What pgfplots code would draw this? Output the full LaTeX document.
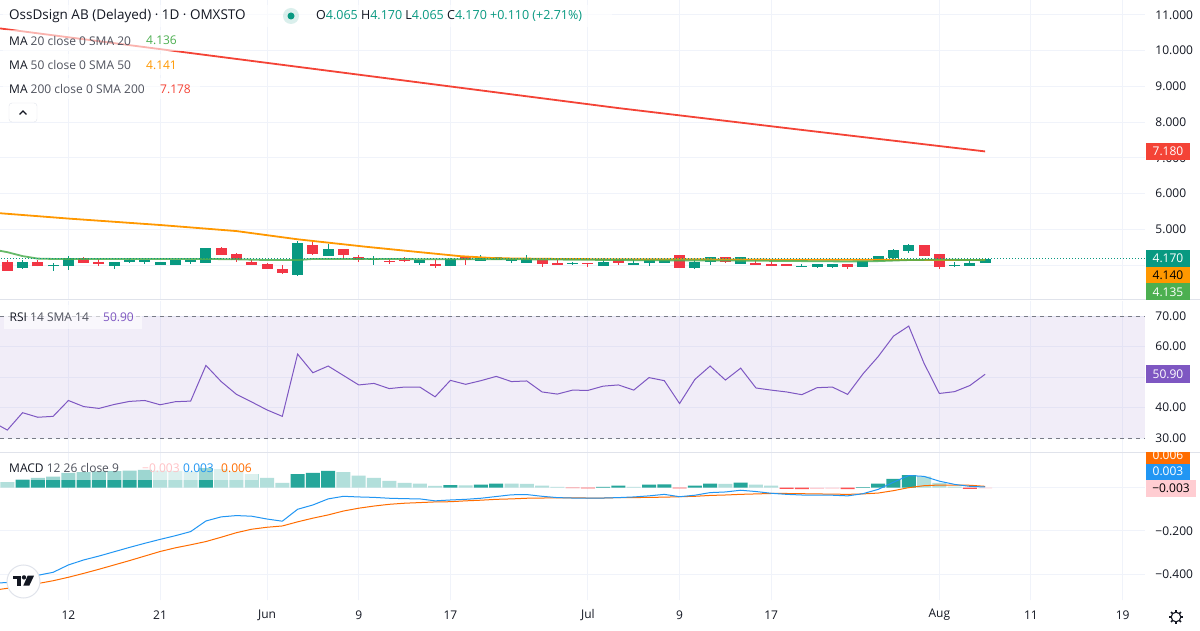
\documentclass[border=0pt]{standalone}
\usepackage{pgfplots}
\pgfplotsset{compat=1.18}
\usepackage{pgfplotstable}
\usepackage{fontspec}
\setmainfont{Open Sans}

\definecolor{upc}{HTML}{089981}
\definecolor{dnc}{HTML}{F23645}
\definecolor{ma20}{HTML}{4CAF50}
\definecolor{ma50}{HTML}{FF9800}
\definecolor{ma200}{HTML}{F44336}
\definecolor{rsic}{HTML}{7E57C2}
\definecolor{macdc}{HTML}{2196F3}
\definecolor{sigc}{HTML}{FF6D00}
\definecolor{hup}{HTML}{26A69A}
\definecolor{hupl}{HTML}{B2DFDB}
\definecolor{hdn}{HTML}{FF5252}
\definecolor{hdnl}{HTML}{FFCDD2}
\definecolor{gridc}{HTML}{F0F3FA}
\definecolor{sepc}{HTML}{E0E3EB}
\definecolor{txt}{HTML}{131722}
\definecolor{sub}{HTML}{50535E}
\definecolor{dashc}{HTML}{787B86}

\newcommand\scalefont{\fontsize{12pt}{14pt}\selectfont}

\pgfplotsset{
  tv/.style={
    scale only axis, width=1145pt,
    xmin=-0.478, xmax=74.46,
    axis line style={draw=none},
    major tick length=0pt, tick style={draw=none},
    xtick={4,10,17,23,29,38,44,50,61,67,73},
    xmajorgrids, ymajorgrids,
    major grid style={draw=gridc, line width=1pt},
    yticklabel pos=right,
    yticklabel style={anchor=west, xshift=7pt, font=\scalefont, text=txt},
    xticklabel style={anchor=center, yshift=-15pt, font=\scalefont, text=txt},
  },
  wick/.style={draw=none, mark=none,
    error bars/.cd, y dir=plus, y explicit, error mark=none,
    error bar style={draw=#1, line width=1pt}},
  body/.style={draw=none, mark=none,
    error bars/.cd, y dir=plus, y explicit, error mark=none,
    error bar style={draw=#1, line width=11pt}},
  hist/.style={ybar, bar width=14pt, bar shift=0pt, fill=#1, draw=none},
}

% daily candles, bar index i
\pgfplotstableread{
i O H L C
1 3.928 4.133 3.900 4.086
3 3.965 4.049 3.844 4.012
4 3.984 4.253 3.872 4.188
7 3.984 4.086 3.900 4.086
8 4.095 4.188 4.067 4.151
9 4.086 4.151 4.030 4.133
10 4.012 4.086 4.012 4.086
11 4.012 4.133 4.012 4.133
12 4.086 4.151 4.040 4.133
13 4.067 4.477 4.067 4.477
19 3.733 4.663 3.705 4.616
21 4.263 4.579 4.263 4.449
24 4.151 4.253 4.012 4.170
27 4.067 4.151 4.002 4.151
29 3.984 4.207 3.984 4.170
31 4.123 4.272 4.123 4.188
32 4.151 4.226 4.151 4.226
33 4.123 4.188 4.067 4.188
34 4.067 4.281 4.067 4.170
37 4.040 4.095 4.012 4.067
39 3.984 4.207 3.984 4.086
41 4.012 4.133 4.012 4.067
42 4.049 4.151 3.984 4.151
43 4.067 4.133 4.067 4.133
45 3.928 4.133 3.900 4.095
46 4.095 4.226 4.012 4.226
48 4.040 4.226 4.040 4.226
52 3.965 4.040 3.965 3.984
53 3.956 4.030 3.928 4.030
54 3.956 4.030 3.928 4.030
56 3.956 4.114 3.956 4.114
57 4.123 4.253 4.123 4.253
58 4.207 4.449 4.179 4.421
59 4.402 4.588 4.346 4.560
62 3.984 4.086 3.956 4.002
63 3.984 4.151 3.984 4.067
64 4.065 4.170 4.065 4.170
}\upcandles

\pgfplotstableread{
i O H L C
0 4.086 4.151 3.844 3.844
2 4.086 4.133 3.965 3.965
5 4.188 4.226 4.067 4.067
6 4.086 4.161 3.984 4.040
14 4.477 4.514 4.291 4.291
15 4.309 4.337 4.086 4.133
16 4.095 4.151 4.012 4.012
17 4.030 4.049 3.900 3.900
18 3.891 4.002 3.751 3.779
20 4.560 4.644 4.291 4.309
22 4.449 4.449 4.188 4.291
23 4.235 4.281 4.095 4.151
25 4.114 4.170 4.040 4.095
26 4.151 4.216 4.095 4.123
28 4.030 4.151 3.928 3.984
30 4.226 4.226 4.002 4.133
35 4.151 4.151 3.956 4.030
36 4.067 4.151 4.012 4.012
38 4.067 4.067 3.956 4.040
40 4.133 4.151 4.012 4.067
44 4.281 4.281 3.928 3.928
47 4.226 4.226 4.067 4.095
49 4.067 4.151 4.012 4.012
50 4.030 4.151 3.984 3.984
51 4.030 4.030 3.984 3.984
55 4.030 4.030 3.900 3.956
60 4.560 4.560 4.263 4.263
61 4.309 4.309 3.900 3.956
}\dncandles

\pgfplotstableread{
i v
-0.5 4.40
0 4.36
1 4.25
2 4.18
3 4.17
5 4.17
8 4.17
10 4.17
13 4.17
15 4.16
17 4.14
19 4.14
20 4.17
22 4.17
25 4.17
28 4.16
31 4.16
34 4.16
37 4.15
40 4.14
43 4.13
46 4.13
49 4.12
52 4.11
55 4.10
57 4.11
59 4.14
61 4.15
64 4.136
}\maA

\pgfplotstableread{
i v
-0.5 5.45
4 5.30
10 5.12
15 4.95
19 4.72
23.5 4.51
27 4.36
29.6 4.25
32 4.19
36 4.17
40 4.16
45 4.16
50 4.15
55 4.15
60 4.14
64 4.141
}\maB

\pgfplotstableread{
i v
-0.5 10.62
12 9.93
24 9.27
40 8.39
52 7.78
64 7.178
}\maC

\pgfplotstableread{
i v
-1 35.4
0 32.6
1 38.3
2 36.8
3 37.1
4 42.3
5 40.3
6 39.7
7 41.0
8 42.0
9 42.3
10 40.9
11 41.9
12 42.1
13 53.8
14 48.5
15 44.3
16 41.8
17 39.2
18 37.1
19 57.5
20 51.4
21 53.6
22 50.5
23 47.4
24 47.9
25 46.2
26 46.7
27 46.7
28 43.5
29 48.9
30 47.6
31 48.8
32 50.2
33 48.5
34 48.7
35 45.1
36 44.4
37 45.7
38 45.6
39 47.0
40 47.4
41 45.7
42 49.8
43 48.8
44 41.3
45 49.2
46 53.6
47 49.0
48 52.9
49 46.4
50 45.7
51 45.1
52 44.2
53 46.5
54 46.7
55 44.3
56 51.0
57 56.7
58 63.4
59 66.7
60 54.5
61 44.6
62 45.2
63 47.2
64 50.9
}\rsi

\pgfplotstableread{
i m s
-1 -0.440 -0.475
0 -0.439 -0.465
1 -0.428 -0.455
2 -0.405 -0.443
3 -0.391 -0.430
4 -0.357 -0.414
5 -0.334 -0.396
6 -0.316 -0.377
7 -0.296 -0.357
8 -0.276 -0.337
9 -0.257 -0.316
10 -0.239 -0.295
11 -0.222 -0.278
12 -0.203 -0.264
13 -0.154 -0.249
14 -0.135 -0.229
15 -0.129 -0.208
16 -0.132 -0.192
17 -0.145 -0.183
18 -0.155 -0.177
19 -0.100 -0.158
20 -0.080 -0.141
21 -0.052 -0.126
22 -0.040 -0.108
23 -0.043 -0.095
24 -0.045 -0.085
25 -0.049 -0.077
26 -0.051 -0.072
27 -0.052 -0.069
28 -0.061 -0.066
29 -0.057 -0.065
30 -0.054 -0.061
31 -0.049 -0.058
32 -0.041 -0.054
33 -0.033 -0.052
34 -0.032 -0.049
35 -0.040 -0.048
36 -0.046 -0.047
37 -0.048 -0.047
38 -0.049 -0.048
39 -0.048 -0.048
40 -0.046 -0.046
41 -0.043 -0.046
42 -0.038 -0.045
43 -0.031 -0.044
44 -0.042 -0.042
45 -0.035 -0.040
46 -0.023 -0.036
47 -0.020 -0.034
48 -0.012 -0.031
49 -0.018 -0.029
50 -0.026 -0.027
51 -0.031 -0.027
52 -0.034 -0.028
53 -0.034 -0.029
54 -0.035 -0.030
55 -0.038 -0.031
56 -0.028 -0.029
57 -0.008 -0.025
58 0.025 -0.014
59 0.056 0.000
60 0.052 0.009
61 0.030 0.012
62 0.015 0.012
63 0.006 0.011
64 0.003 0.006
}\macd

\pgfplotstableread{
i v
1 0.038
2 0.045
3 0.051
4 0.068
5 0.072
6 0.075
7 0.076
8 0.079
9 0.082
13 0.090
19 0.063
20 0.068
21 0.077
29 0.012
31 0.014
32 0.019
39 0.003
40 0.009
42 0.014
43 0.015
45 0.009
46 0.018
48 0.023
56 0.002
57 0.018
58 0.040
59 0.058
}\histA

\pgfplotstableread{
i v
0 0.026
10 0.079
11 0.077
12 0.074
14 0.086
15 0.075
16 0.063
17 0.045
18 0.022
22 0.072
23 0.055
24 0.045
25 0.031
26 0.022
27 0.018
28 0.008
30 0.011
33 0.018
34 0.017
35 0.009
36 0.003
41 0.003
47 0.017
49 0.014
50 0.009
60 0.051
61 0.022
62 0.005
}\histB

\pgfplotstableread{
i v
37 -0.002
38 -0.003
44 -0.003
51 -0.006
52 -0.007
55 -0.007
63 -0.006
}\histC

\pgfplotstableread{
i v
53 -0.006
54 -0.005
64 -0.003
}\histD

\begin{document}
\begin{tikzpicture}
\useasboundingbox (0,0) rectangle (1200pt,630pt);
\fill[white] (0,0) rectangle (1200pt,630pt);

% price pane
\begin{axis}[tv, at={(0pt,330pt)}, anchor=south west, height=300pt,
  ymin=3.022, ymax=11.414, ytick={4,...,11},
  yticklabels={,5.000,6.000,7.000,8.000,9.000,10.000,11.000},
  xticklabels={}]
\addplot[wick=upc] table[x=i, y=L, y error plus expr=\thisrow{H}-\thisrow{L}] {\upcandles};
\addplot[body=upc] table[x=i, y=O, y error plus expr=\thisrow{C}-\thisrow{O}] {\upcandles};
\addplot[wick=dnc] table[x=i, y=L, y error plus expr=\thisrow{H}-\thisrow{L}] {\dncandles};
\addplot[body=dnc] table[x=i, y=C, y error plus expr=\thisrow{O}-\thisrow{C}] {\dncandles};
\addplot[ma50, line width=1.8pt, mark=none] table[x=i, y=v] {\maB};
\addplot[ma20, line width=1.8pt, mark=none, opacity=0.85] table[x=i, y=v] {\maA};
\addplot[ma200, line width=1.8pt, mark=none] table[x=i, y=v] {\maC};
\addplot[upc, line width=1pt, dash pattern=on 1pt off 2pt, mark=none] coordinates {(-1,4.17) (76,4.17)};
\end{axis}

% RSI pane
\begin{axis}[tv, at={(0pt,178pt)}, anchor=south west, height=151pt,
  ymin=25.41, ymax=74.92, ytick={30,40,50,60,70},
  yticklabels={30.00,40.00,,60.00,70.00},
  xticklabels={}]
\addplot[draw=none, fill=rsic, fill opacity=0.1, mark=none] coordinates {(-1,30) (76,30) (76,70) (-1,70)} -- cycle;
\addplot[dashc, line width=1pt, dash pattern=on 4pt off 4pt, mark=none] coordinates {(-1,70) (76,70)};
\addplot[dashc, line width=1pt, dash pattern=on 4pt off 4pt, mark=none] coordinates {(-1,30) (76,30)};
\addplot[rsic, line width=1pt, mark=none] table[x=i, y=v] {\rsi};
\end{axis}

% MACD pane
\begin{axis}[tv, at={(0pt,30pt)}, anchor=south west, height=147pt,
  ymin=-0.519, ymax=0.160, ytick={-0.4,-0.2,0},
  yticklabels={−0.400,−0.200,},
  xticklabels={12,21,Jun,9,17,Jul,9,17,Aug,11,19}]
\addplot[hist=hup] table[x=i, y=v] {\histA};
\addplot[hist=hupl] table[x=i, y=v] {\histB};
\addplot[hist=hdn] table[x=i, y=v] {\histC};
\addplot[hist=hdnl] table[x=i, y=v] {\histD};
\addplot[sigc, line width=1pt, mark=none] table[x=i, y=s] {\macd};
\addplot[macdc, line width=1pt, mark=none] table[x=i, y=m] {\macd};
\end{axis}

% pane separators
\draw[sepc, line width=1pt] (0,330pt) -- (1200pt,330pt);
\draw[sepc, line width=1pt] (0,178pt) -- (1200pt,178pt);

% price legend
\fill[white, opacity=0.6] (3pt,603pt) rectangle (612pt,625pt);
\fill[white, opacity=0.6] (3pt,579pt) rectangle (186pt,600pt);
\fill[white, opacity=0.6] (3pt,555pt) rectangle (186pt,576pt);
\fill[white, opacity=0.6] (3pt,531pt) rectangle (200pt,552pt);
\node[anchor=west, inner sep=0pt, text=txt, font=\fontsize{13.5pt}{16pt}\selectfont] at (9pt,614pt) {OssDsign AB (Delayed) · 1D · OMXSTO};
\fill[upc, opacity=0.15] (291pt,614pt) circle (8pt);
\fill[upc] (291pt,614pt) circle (3.5pt);
\node[anchor=west, inner sep=0pt, text=txt, font=\fontsize{12.5pt}{15pt}\selectfont] at (316pt,614pt)
  {O\textcolor{upc}{4.065} H\textcolor{upc}{4.170} L\textcolor{upc}{4.065} C\textcolor{upc}{4.170} \textcolor{upc}{+0.110 (+2.71\%)}};
\begin{scope}[every node/.style={anchor=west, inner sep=0pt, font=\fontsize{12pt}{14pt}\selectfont}]
\node[text=txt] at (9pt,589.3pt) {MA \textcolor{sub}{20 close 0 SMA 20}};
\node[text=ma20] at (146pt,589.3pt) {4.136};
\node[text=txt] at (9pt,565pt) {MA \textcolor{sub}{50 close 0 SMA 50}};
\node[text=ma50] at (146pt,565pt) {4.141};
\node[text=txt] at (9pt,541pt) {MA \textcolor{sub}{200 close 0 SMA 200}};
\node[text=ma200] at (160pt,541pt) {7.178};
\end{scope}
\draw[sepc, fill=white, rounded corners=3pt] (9pt,508pt) rectangle (37pt,527pt);
\draw[txt, line width=1.2pt] (19.5pt,515.5pt) -- (23pt,519pt) -- (26.5pt,515.5pt);

% RSI legend
\fill[white, opacity=0.6] (4pt,301pt) rectangle (142pt,325pt);
\node[anchor=west, inner sep=0pt, text=txt, font=\fontsize{12pt}{14pt}\selectfont] at (9.5pt,313pt) {RSI \textcolor{sub}{14 SMA 14}};
\node[anchor=west, inner sep=0pt, text=rsic, font=\fontsize{12pt}{14pt}\selectfont] at (103pt,313pt) {50.90};

% MACD legend
\fill[white, opacity=0.55] (0pt,150pt) rectangle (258pt,169pt);
\begin{scope}[every node/.style={anchor=west, inner sep=0pt, font=\fontsize{12pt}{14pt}\selectfont}]
\node[text=txt] at (9pt,162pt) {MACD \textcolor{sub}{12 26 close 9}};
\node[text=hdnl!90!hdn] at (142pt,162pt) {−0.003};
\node[text=macdc] at (183pt,162pt) {0.003};
\node[text=sigc] at (221pt,162pt) {0.006};
\end{scope}

% scale value boxes
\begin{scope}[every node/.style={inner sep=0pt, minimum width=44pt, minimum height=17pt, font=\scalefont}]
\node[fill=ma200, text=white] at (1168pt,478.5pt) {7.180};
\node[fill=upc, text=white] at (1168pt,371.5pt) {4.170};
\node[fill=ma50, text=black] at (1168pt,354.5pt) {4.140};
\node[fill=ma20, text=white] at (1168pt,338pt) {4.135};
\node[fill=rsic, text=white, minimum height=18pt] at (1168pt,256pt) {50.90};
\node[fill=macdc, text=white] at (1168pt,158.3pt) {0.003};
\node[fill=hdnl, text=black, minimum width=50pt] at (1171pt,141.5pt) {−0.003};
\begin{scope}
\clip (1140pt,140pt) rectangle (1200pt,177.5pt);
\node[fill=sigc, text=white] at (1168pt,175pt) {0.006};
\end{scope}
\end{scope}

% logo and settings icon
\draw[sepc, fill=white, line width=1pt] (23.5pt,48.5pt) circle (16.5pt);
\fill[txt] (12.7pt,51.3pt) rectangle (20.7pt,54.3pt);
\fill[txt] (16.7pt,44.3pt) rectangle (20.7pt,54.3pt);
\fill[txt] (24pt,52.6pt) circle (2.2pt);
\fill[txt] (27.7pt,54.3pt) -- (34pt,54.3pt) -- (29.3pt,44.3pt) -- (23.3pt,44.3pt) -- cycle;
\draw[txt, line width=1.1pt] (1176pt,13pt) circle (4.8pt);
\foreach \a in {0,45,...,315}
  \draw[txt, line width=1.6pt] (1176pt,13pt) ++(\a:4.8pt) -- ++(\a:2.2pt);
\end{tikzpicture}
\end{document}
